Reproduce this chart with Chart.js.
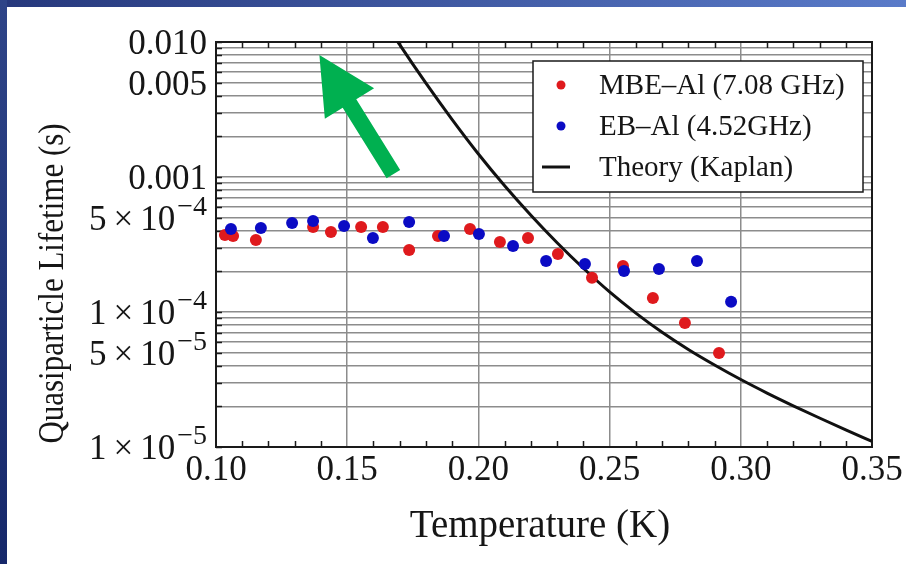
<!DOCTYPE html>
<html>
<head>
<meta charset="utf-8">
<script src="https://cdn.jsdelivr.net/npm/chart.js@4.4.1/dist/chart.umd.min.js"></script>
<style>
  body { margin: 0; width: 906px; height: 564px; position: relative; overflow: hidden; background: #fff; }
  #topbar { position: absolute; left: 0; top: 0; width: 906px; height: 7px; background: linear-gradient(90deg, #26387c, #5a7bc9); }
  #leftbar { position: absolute; left: 0; top: 0; width: 7px; height: 564px; background: linear-gradient(180deg, #2e4488, #16286a); }
  #c { position: absolute; left: 7px; top: 7px; }
</style>
</head>
<body>
<div id="topbar"></div>
<div id="leftbar"></div>
<canvas id="c" width="899" height="557"></canvas>
<script>
// MBE-Al (7.08 GHz)
const mbeT = [0.1034, 0.1065, 0.1152, 0.1370, 0.1438, 0.1553, 0.1636, 0.1736, 0.1846, 0.1968,
              0.2082, 0.2189, 0.2303, 0.2433, 0.2551, 0.2665, 0.2787, 0.2917];
const mbeTau = [3.72e-4, 3.66e-4, 3.41e-4, 4.27e-4, 3.92e-4, 4.27e-4, 4.27e-4, 2.88e-4, 3.66e-4, 4.12e-4,
                3.30e-4, 3.53e-4, 2.69e-4, 1.79e-4, 2.19e-4, 1.27e-4, 8.3e-5, 4.97e-5];

// EB-Al (4.52GHz)
const ebT = [0.1057, 0.1171, 0.1290, 0.1370, 0.1488, 0.1598, 0.1736, 0.1869, 0.2002, 0.2132,
             0.2258, 0.2406, 0.2555, 0.2688, 0.2833, 0.2963];
const ebTau = [4.12e-4, 4.19e-4, 4.56e-4, 4.72e-4, 4.34e-4, 3.53e-4, 4.64e-4, 3.66e-4, 3.78e-4, 3.08e-4,
               2.39e-4, 2.27e-4, 2.01e-4, 2.08e-4, 2.39e-4, 1.19e-4];

// Theory (Kaplan)
const theoryT = [0.165, 0.17, 0.18, 0.19, 0.20, 0.21, 0.22, 0.23, 0.24, 0.25,
                 0.26, 0.27, 0.28, 0.29, 0.30, 0.31, 0.32, 0.33, 0.34, 0.35];
const theoryTau = [1.35e-2, 9.55e-3, 4.95e-3, 2.66e-3, 1.48e-3, 8.61e-4, 5.21e-4, 3.26e-4, 2.11e-4, 1.41e-4,
                   9.82e-5, 7.08e-5, 5.28e-5, 4.05e-5, 3.16e-5, 2.51e-5, 2.02e-5, 1.64e-5, 1.34e-5, 1.10e-5];

const labels = ["MBE–Al (7.08 GHz)", "EB–Al (4.52GHz)", "Theory (Kaplan)"];

// axes
const xMajor = [0.10, 0.15, 0.20, 0.25, 0.30, 0.35];
const xMinor = [0.11, 0.12, 0.13, 0.14, 0.16, 0.17, 0.18, 0.19, 0.21, 0.22, 0.23, 0.24,
                0.26, 0.27, 0.28, 0.29, 0.31, 0.32, 0.33, 0.34];
const yGrid = [1e-5, 2e-5, 3e-5, 4e-5, 5e-5, 6e-5, 7e-5, 8e-5, 9e-5,
               1e-4, 2e-4, 3e-4, 4e-4, 5e-4, 6e-4, 7e-4, 8e-4, 9e-4,
               1e-3, 2e-3, 3e-3, 4e-3, 5e-3, 6e-3, 7e-3, 8e-3, 9e-3, 1e-2];
const yLabelVals = [1e-2, 5e-3, 1e-3, 5e-4, 1e-4, 5e-5, 1e-5];
const yLabelMain = ["0.010", "0.005", "0.001", "5\u2009×\u200910", "1\u2009×\u200910", "5\u2009×\u200910", "1\u2009×\u200910"];
const yLabelSup = ["", "", "", "−4", "−4", "−5", "−5"];

// green arrow annotation (data coords: tail, tip)
const arrowTail = [0.1676, 1.05e-3];
const arrowTip = [0.1394, 8.0e-3];

const serif = "'Liberation Serif', 'Times New Roman', serif";
const red = "#df1a1d";
const blue = "#0b0bc4";

const decor = {
  id: "decor",
  beforeDatasetsDraw(chart) {
    const ctx = chart.ctx, ca = chart.chartArea;
    const xs = chart.scales.x, ys = chart.scales.y;
    ctx.save();
    ctx.strokeStyle = "#1a1a1a";
    ctx.lineWidth = 1.5;
    ctx.beginPath();
    xMinor.forEach(v => {
      const px = Math.round(xs.getPixelForValue(v)) + 0.5;
      ctx.moveTo(px, ca.bottom); ctx.lineTo(px, ca.bottom - 6);
      ctx.moveTo(px, ca.top); ctx.lineTo(px, ca.top + 6);
    });
    yGrid.forEach(v => {
      const py = Math.round(ys.getPixelForValue(v)) + 0.5;
      ctx.moveTo(ca.left, py); ctx.lineTo(ca.left + 6, py);
    });
    ctx.stroke();
    ctx.lineWidth = 2;
    ctx.strokeRect(ca.left, ca.top, ca.right - ca.left, ca.bottom - ca.top);
    ctx.restore();
  },
  afterDraw(chart) {
    const ctx = chart.ctx, ca = chart.chartArea;
    const xs = chart.scales.x, ys = chart.scales.y;
    ctx.save();
    ctx.fillStyle = "#161616";

    // y tick labels with superscripts
    ctx.textAlign = "right";
    ctx.textBaseline = "alphabetic";
    yLabelVals.forEach((v, i) => {
      const py = ys.getPixelForValue(v);
      let right = ca.left - 9;
      if (yLabelSup[i]) {
        ctx.font = "28px " + serif;
        ctx.fillText(yLabelSup[i], right, py - 3);
        right -= ctx.measureText(yLabelSup[i]).width + 2;
      }
      ctx.font = "35px " + serif;
      ctx.fillText(yLabelMain[i], right, py + 12);
    });

    // axis titles
    ctx.textAlign = "center";
    ctx.font = "39px " + serif;
    ctx.fillText("Temperature (K)", (ca.left + ca.right) / 2 - 4, 530);
    ctx.save();
    ctx.translate(56, (ca.top + ca.bottom) / 2 + 39);
    ctx.rotate(-Math.PI / 2);
    ctx.scale(1, 1.15);
    ctx.font = "31px " + serif;
    ctx.fillText("Quasiparticle Lifetime (s)", 0, 0);
    ctx.restore();

    // legend box
    const bx = ca.right - 339, by = ca.top + 19, bw = 330, bh = 131;
    ctx.fillStyle = "#fff";
    ctx.fillRect(bx, by, bw, bh);
    ctx.strokeStyle = "#1a1a1a";
    ctx.lineWidth = 1.5;
    ctx.strokeRect(bx, by, bw, bh);
    const rows = [by + 24, by + 65, by + 106];
    const ds = chart.data.datasets;
    ds.forEach((d, i) => {
      const cy = rows[i];
      if (i < 2) {
        ctx.fillStyle = d.backgroundColor;
        ctx.beginPath();
        ctx.arc(bx + 28, cy, 4.5, 0, Math.PI * 2);
        ctx.fill();
      } else {
        ctx.strokeStyle = d.borderColor;
        ctx.lineWidth = 3;
        ctx.beginPath();
        ctx.moveTo(bx + 9, cy); ctx.lineTo(bx + 37, cy);
        ctx.stroke();
      }
      ctx.fillStyle = "#161616";
      ctx.textAlign = "left";
      ctx.font = "29px " + serif;
      ctx.fillText(d.label, bx + 66, cy + 9);
    });

    // green arrow
    const x0 = xs.getPixelForValue(arrowTail[0]), y0 = ys.getPixelForValue(arrowTail[1]);
    const x1 = xs.getPixelForValue(arrowTip[0]), y1 = ys.getPixelForValue(arrowTip[1]);
    const len = Math.hypot(x1 - x0, y1 - y0);
    const headLen = 57, headW = 29, shaftW = 8;
    ctx.translate(x0, y0);
    ctx.rotate(Math.atan2(y1 - y0, x1 - x0));
    ctx.fillStyle = "#00b050";
    ctx.beginPath();
    ctx.moveTo(0, -shaftW);
    ctx.lineTo(len - headLen, -shaftW);
    ctx.lineTo(len - headLen, -headW);
    ctx.lineTo(len, 0);
    ctx.lineTo(len - headLen, headW);
    ctx.lineTo(len - headLen, shaftW);
    ctx.lineTo(0, shaftW);
    ctx.closePath();
    ctx.fill();
    ctx.restore();
  }
};

new Chart(document.getElementById("c").getContext("2d"), {
  type: "scatter",
  data: {
    datasets: [
      {
        label: labels[0],
        data: mbeT.map((t, i) => ({ x: t, y: mbeTau[i] })),
        backgroundColor: red,
        borderWidth: 0,
        pointRadius: 6,
        order: 1,
      },
      {
        label: labels[1],
        data: ebT.map((t, i) => ({ x: t, y: ebTau[i] })),
        backgroundColor: blue,
        borderWidth: 0,
        pointRadius: 6,
        order: 0,
      },
      {
        label: labels[2],
        data: theoryT.map((t, i) => ({ x: t, y: theoryTau[i] })),
        showLine: true,
        borderColor: "#111",
        borderWidth: 3,
        pointRadius: 0,
        cubicInterpolationMode: "monotone",
        order: 2,
      },
    ],
  },
  options: {
    responsive: false,
    animation: false,
    devicePixelRatio: 1,
    layout: { padding: { top: 35, right: 34, left: 0, bottom: 0 } },
    plugins: { legend: { display: false }, tooltip: { enabled: false } },
    scales: {
      x: {
        type: "linear",
        min: 0.1,
        max: 0.35,
        afterBuildTicks: s => { s.ticks = xMajor.map(v => ({ value: v })); },
        afterFit: s => { s.height = 117; },
        ticks: {
          callback: v => v.toFixed(2),
          font: { family: serif, size: 35 },
          color: "#161616",
          padding: 3,
          maxRotation: 0,
          autoSkip: false,
        },
        grid: { color: "#8c8c8c", lineWidth: 1.5, drawTicks: false },
        border: { display: false },
      },
      y: {
        type: "logarithmic",
        min: 1e-5,
        max: 1e-2,
        afterBuildTicks: s => { s.ticks = yGrid.map(v => ({ value: v })); },
        afterFit: s => { s.width = 209; },
        ticks: { display: false },
        grid: { color: "#8c8c8c", lineWidth: 1.5, drawTicks: false },
        border: { display: false },
      },
    },
  },
  plugins: [decor],
});
</script>
</body>
</html>
